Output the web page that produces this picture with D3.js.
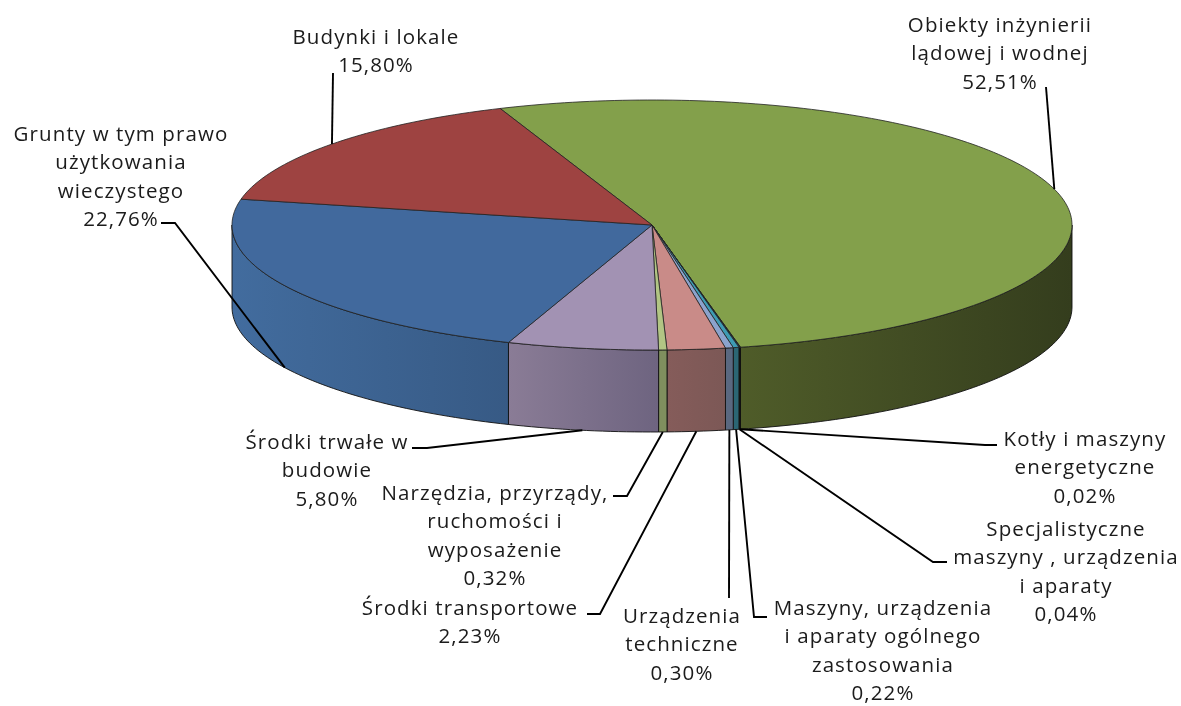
<!DOCTYPE html>
<html>
<head>
<meta charset="utf-8">
<script src="https://cdn.jsdelivr.net/npm/d3@7"></script>
<style>
  html, body { margin: 0; padding: 0; background: #fff; }
  svg { display: block; }
  text { font-family: "Open Sans", sans-serif; font-size: 20.5px; letter-spacing: 1.1px; fill: #1a1a1a; }
</style>
</head>
<body>
<div id="my_dataviz"></div>
<script>
// values, clockwise from the big green slice
var categories = [
    "Obiekty inżynierii|lądowej i wodnej",
    "Kotły i maszyny|energetyczne",
    "Specjalistyczne|maszyny , urządzenia|i aparaty",
    "Maszyny, urządzenia|i aparaty ogólnego|zastosowania",
    "Urządzenia|techniczne",
    "Środki transportowe",
    "Narzędzia, przyrządy,|ruchomości i|wyposażenie",
    "Środki trwałe w|budowie",
    "Grunty w tym prawo|użytkowania|wieczystego",
    "Budynki i lokale"
];
var percents = [52.51, 0.02, 0.04, 0.22, 0.30, 2.23, 0.32, 5.80, 22.76, 15.80];
var percentLabels = ["52,51%", "0,02%", "0,04%", "0,22%", "0,30%", "2,23%", "0,32%", "5,80%", "22,76%", "15,80%"];

// styling and layout, same order as above
var topColors = ["#83a04b", "#2f5f5f", "#2f5f70", "#3e9bb3", "#8ba3cd", "#c98b88", "#b2c584", "#a292b3", "#41699d", "#9e4341"];
// wall gradient, left colour then right colour
var wallColors = [
    ["#4f5c29", "#343d1d"], ["#222", "#222"], ["#222", "#222"], ["#2b6674", "#2b6674"], ["#5a6880", "#5a6880"],
    ["#855c5a", "#7c5856"], ["#7f8f5e", "#7f8f5e"], ["#8a7c96", "#6e6480"], ["#426c9e", "#375a85"], ["#8a3a38", "#8a3a38"]
];
var labelCenters = [1000, 1085, 1066, 883, 682, 470, 495, 327, 121, 376];
var labelTops = [32, 446, 536, 615, 623, 615, 500, 449, 141, 44];
var lineHeight = 28.4;
// elbow points of the leader lines, the last point is worked out from the slice
var leaderElbows = [
    [[1046, 87]],
    [[997, 445], [985, 445]],
    [[947, 562], [933, 562]],
    [[767, 617], [754, 617]],
    [[729, 598]],
    [[587, 614], [600, 614]],
    [[613, 496], [627, 496]],
    [[412, 448], [427, 448]],
    [[161, 223], [175, 223]],
    [[333, 73]]
];
var leaderOnTop = [true, false, false, false, false, false, false, false, false, true];

var width = 1181;
var height = 706;
var cx = 652, cy = 225, rx = 420, ry = 125, depth = 82;
var startDeg = -21.2;

var svg = d3.select("#my_dataviz").append("svg")
    .attr("width", width)
    .attr("height", height);

var defs = svg.append("defs");
defs.append("filter").attr("id", "soft")
    .append("feGaussianBlur").attr("stdDeviation", 0.35);

var x = d3.scaleLinear().domain([-1, 1]).range([cx - rx, cx + rx]);
var y = d3.scaleLinear().domain([-1, 1]).range([cy - ry, cy + ry]);

// angle 0 is at the top and goes clockwise
function px(a) { return x(Math.sin(a)); }
function py(a) { return y(-Math.cos(a)); }
function samples(a0, a1) {
    var n = Math.max(2, Math.ceil((a1 - a0) / 0.02));
    return d3.range(n + 1).map(function (i) { return a0 + (a1 - a0) * i / n; });
}

var pie = d3.pie().sort(null)
    .startAngle(startDeg * Math.PI / 180)
    .endAngle((startDeg + 360) * Math.PI / 180);
var slices = pie(percents);

// side walls, only the front half can be seen
var wallArea = d3.area()
    .x(px)
    .y0(function (a) { return py(a) + depth; })
    .y1(py);

slices.forEach(function (d, i) {
    var a0 = Math.max(d.startAngle, Math.PI / 2);
    var a1 = Math.min(d.endAngle, 3 * Math.PI / 2);
    if (a1 <= a0) return;
    var id = "wall" + i;
    var grad = defs.append("linearGradient").attr("id", id);
    grad.append("stop").attr("offset", "0%").attr("stop-color", wallColors[i][0]);
    grad.append("stop").attr("offset", "100%").attr("stop-color", wallColors[i][1]);
    svg.append("path")
        .attr("d", wallArea(samples(a0, a1)))
        .attr("fill", "url(#" + id + ")")
        .attr("stroke", "#111")
        .attr("stroke-width", 0.9);
});

// top of the pie
var rim = d3.line().x(px).y(py);
svg.selectAll("path.top")
    .data(slices)
    .enter()
    .append("path")
    .attr("class", "top")
    .attr("d", function (d) {
        return "M" + cx + "," + cy + "L" + rim(samples(d.startAngle, d.endAngle)).slice(1) + "Z";
    })
    .attr("fill", function (d, i) { return topColors[i]; })
    .attr("stroke", "#222")
    .attr("stroke-width", 0.8)
    .attr("stroke-linejoin", "round");

// leader lines
var leader = d3.line();
slices.forEach(function (d, i) {
    var mid = (d.startAngle + d.endAngle) / 2;
    var end = [px(mid), py(mid) + (leaderOnTop[i] ? 0 : depth)];
    svg.append("path")
        .attr("d", leader(leaderElbows[i].concat([end])))
        .attr("fill", "none")
        .attr("stroke", "#000")
        .attr("stroke-width", 1.9);
});

// labels
var labels = svg.append("g").attr("filter", "url(#soft)");
categories.forEach(function (name, i) {
    var lines = name.split("|").concat([percentLabels[i]]);
    labels.selectAll(null)
        .data(lines)
        .enter()
        .append("text")
        .attr("x", labelCenters[i])
        .attr("y", function (d, j) { return labelTops[i] + j * lineHeight; })
        .attr("text-anchor", "middle")
        .text(function (d) { return d; });
});
</script>
</body>
</html>
